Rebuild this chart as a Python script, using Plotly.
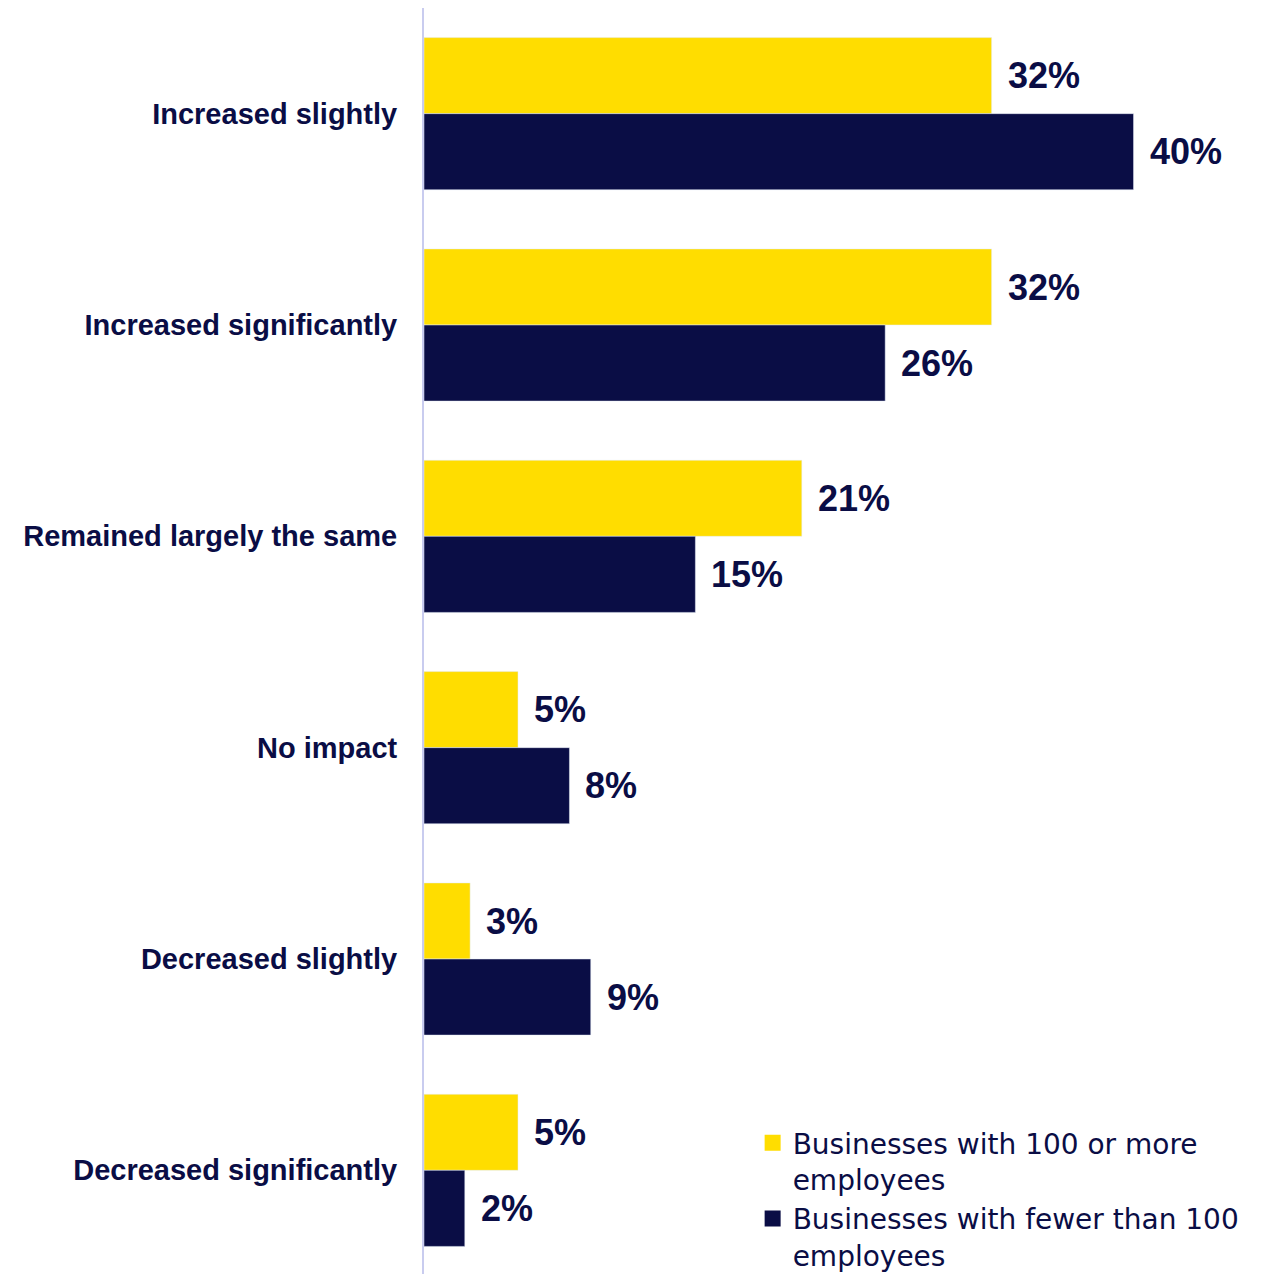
import plotly.graph_objects as go

categories = ["Increased slightly", "Increased significantly", "Remained largely the same",
              "No impact", "Decreased slightly", "Decreased significantly"]
large_values = [32, 32, 21.3, 5.3, 2.6, 5.3]
small_values = [40, 26, 15.3, 8.2, 9.4, 2.3]
large_labels = ["32%", "32%", "21%", "5%", "3%", "5%"]
small_labels = ["40%", "26%", "15%", "8%", "9%", "2%"]
series_names = ["Businesses with 100 or more<br>employees", "Businesses with fewer than 100<br>employees"]

YELLOW = "#FFDD00"
NAVY = "#0A0D45"
FONT = "Arial, Liberation Sans, sans-serif"
LEGEND_FONT = "DejaVu Sans, Arial, sans-serif"

fig = go.Figure()
fig.add_trace(go.Bar(y=categories, x=large_values, orientation="h", marker_color=YELLOW,
                     showlegend=False, name=series_names[0]))
fig.add_trace(go.Bar(y=categories, x=small_values, orientation="h", marker_color=NAVY,
                     showlegend=False, name=series_names[1]))
# legend entries
for name, col in zip(series_names, [YELLOW, NAVY]):
    fig.add_trace(go.Scatter(x=[None], y=[None], mode="markers", name=name,
                             marker=dict(symbol="square", size=16, color=col)))

annotations = []
for cat, v, t in zip(categories, large_values, large_labels):
    annotations.append(dict(x=v, y=cat, text=t, xanchor="left", yanchor="middle", xshift=14, yshift=38,
                            showarrow=False, font=dict(size=36, color=NAVY, family=FONT, weight="bold")))
for cat, v, t in zip(categories, small_values, small_labels):
    annotations.append(dict(x=v, y=cat, text=t, xanchor="left", yanchor="middle", xshift=14, yshift=-38,
                            showarrow=False, font=dict(size=36, color=NAVY, family=FONT, weight="bold")))

fig.update_layout(
    width=1263, height=1274,
    margin=dict(l=416, r=0, t=0, b=6),
    paper_bgcolor="white", plot_bgcolor="white",
    barmode="group", bargap=0.28, bargroupgap=0,
    font=dict(family=FONT, color=NAVY),
    annotations=annotations,
    xaxis=dict(range=[0, 47.75], visible=False, fixedrange=True),
    yaxis=dict(autorange="reversed", showline=True, linecolor="#C9CCEF", linewidth=2,
               showgrid=False, zeroline=False, ticks="", ticklabelstandoff=19,
               tickfont=dict(size=29, color=NAVY, family=FONT, weight="bold")),
    legend=dict(x=0.388, xanchor="left", y=0.1246, yanchor="top", valign="top",
                font=dict(size=28, color=NAVY, family=LEGEND_FONT), bgcolor="rgba(0,0,0,0)",
                tracegroupgap=0),
)
fig.write_html("out.html")
